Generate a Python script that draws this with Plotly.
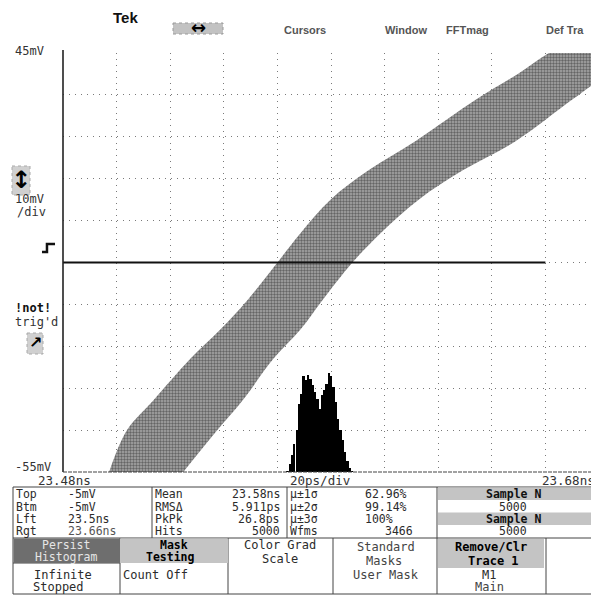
import plotly.graph_objects as go

x_range_ns = [23.48, 23.68]          # 20 ps/div, 10 div
y_range_mv = [-55, 45]               # 10 mV/div, 10 div

# persisted rising edge: voltage levels and early / late edge times of the band
band_mv = [-55, -45, -38, -28, -21, -14, -5, 2, 10, 17, 24, 34, 40, 45, 48]
band_early_ns = [23.4972, 23.5039, 23.5136, 23.5275, 23.5387, 23.5488, 23.5600,
                 23.5686, 23.5798, 23.5940, 23.6116, 23.6344, 23.6497, 23.6613, 23.6714]
band_late_ns = [23.5249, 23.5376, 23.5469, 23.5585, 23.5686, 23.5768, 23.5880,
                23.5985, 23.6127, 23.6292, 23.6490, 23.6703, 23.6838, 23.6994, 23.7100]

# horizontal histogram of crossing times (hits per bin)
hist_ns = [23.5637, 23.5646, 23.5654, 23.5663, 23.5672, 23.5680, 23.5689, 23.5697,
           23.5706, 23.5715, 23.5723, 23.5732, 23.5740, 23.5749, 23.5758, 23.5766,
           23.5775, 23.5783, 23.5792, 23.5801, 23.5809, 23.5818, 23.5826, 23.5835,
           23.5844, 23.5852, 23.5861, 23.5869, 23.5878]
hist_hits = [3, 24, 51, 84, 126, 204, 234, 288, 276, 291, 279, 261, 240, 219, 189,
             231, 246, 264, 297, 288, 255, 210, 159, 126, 96, 60, 33, 12, 3]
hist_scale_max = 1257

trig_level_mv = -5
hist_window_ns = [23.48, 23.66]

stat_col1 = [("Top", "-5mV"), ("Btm", "-5mV"), ("Lft", "23.5ns"), ("Rgt", "23.66ns")]
stat_col2 = [("Mean", "23.58ns"), ("RMSΔ", "5.911ps"), ("PkPk", "26.8ps"), ("Hits", "5000")]
stat_col3 = [("µ±1σ", "62.96%"), ("µ±2σ", "99.14%"), ("µ±3σ", "100%"), ("Wfms", "3466")]
stat_col4 = ["Sample N", "5000", "Sample N", "5000"]

# ---------------- geometry helpers (reference pixels -> paper) ----------------
OFF = 8                      # the page body adds an 8 px margin
W, H = 599 - OFF, 595 - OFF
PLOT_L, PLOT_T, PLOT_B = 63, 53, 472
L, T = PLOT_L - OFF, PLOT_T - OFF
B = 595 - PLOT_B
PW, PH = 599 - PLOT_L, PLOT_B - PLOT_T
MONO = "DejaVu Sans Mono"
SANS = "Liberation Sans"
TS = 12


def fx(px):
    return (px - PLOT_L) / PW


def fy(py):
    return (PLOT_B - py) / PH


annotations = []
shapes = []


def txt(px, py, s, size=TS, color="#2b2b2b", bold=False, anchor="left", family=MONO):
    annotations.append(dict(
        x=fx(px), y=fy(py), xref="paper", yref="paper", text=s, showarrow=False,
        xanchor=anchor, yanchor="middle", borderpad=0,
        font=dict(family=family, size=size, color=color, weight="bold" if bold else "normal")))


def rect(x0, y0, x1, y1, fill="rgba(0,0,0,0)", line="#3a3a3a", lw=1, dash="solid"):
    shapes.append(dict(type="rect", xref="paper", yref="paper", x0=fx(x0), x1=fx(x1),
                       y0=fy(y0), y1=fy(y1), fillcolor=fill,
                       line=dict(color=line, width=lw, dash=dash), layer="above"))


def hline(x0, x1, y, color="#3a3a3a", lw=1, dash="solid"):
    shapes.append(dict(type="line", xref="paper", yref="paper", x0=fx(x0), x1=fx(x1),
                       y0=fy(y), y1=fy(y), line=dict(color=color, width=lw, dash=dash)))


def vline(x, y0, y1, color="#3a3a3a", lw=1, dash="solid"):
    shapes.append(dict(type="line", xref="paper", yref="paper", x0=fx(x), x1=fx(x),
                       y0=fy(y0), y1=fy(y1), line=dict(color=color, width=lw, dash=dash)))


# ---------------- traces ----------------
fig = go.Figure()
fig.add_trace(go.Scatter(
    x=band_early_ns + band_late_ns[::-1], y=band_mv + band_mv[::-1],
    mode="lines", fill="toself", line=dict(width=0, color="#8a8a8a", shape="spline", smoothing=1.0),
    fillcolor="#9a9a9a",
    fillpattern=dict(shape=".", fgcolor="#222222", bgcolor="#a8a8a8", size=3, solidity=0.5),
    hoverinfo="skip"))
fig.add_trace(go.Bar(
    x=hist_ns, y=hist_hits, yaxis="y2", width=0.00088,
    marker=dict(color="#000000", line=dict(width=0)), hoverinfo="skip"))

# trigger / histogram level line
shapes.append(dict(type="line", xref="x", yref="y", x0=hist_window_ns[0], x1=hist_window_ns[1],
                   y0=trig_level_mv, y1=trig_level_mv, line=dict(color="#111", width=2)))

# graticule frame
vline(63, 50, 472, color="#222", lw=1.6)
hline(63, 599, 472, color="#444", lw=1.2, dash="4px,1px")

# ---------------- top menu ----------------
txt(125, 17, "Tek", size=15, color="#111", bold=True, anchor="center", family=SANS)
rect(173, 23, 223, 34, fill="#c2c2c2", line="#9a9a9a", dash="dot")
txt(198, 28, "↔", size=18, color="#000", bold=True, anchor="center", family="DejaVu Sans")
txt(305, 30, "Cursors", size=11, color="#555", bold=True, anchor="center", family=SANS)
txt(406, 30, "Window", size=11, color="#555", bold=True, anchor="center", family=SANS)
txt(467, 30, "FFTmag", size=11, color="#555", bold=True, anchor="center", family=SANS)
txt(545, 30, "Def Tra", size=11, color="#555", bold=True, anchor="left", family=SANS)

# ---------------- left side readouts ----------------
txt(14, 51, "45mV", size=12, color="#333")
rect(12, 166, 30, 195, fill="#d0d0d0", line="#aaaaaa", dash="dot")
txt(21, 180, "↕", size=24, color="#000", bold=True, anchor="center", family="DejaVu Sans")
txt(14, 199, "10mV", size=12, color="#333")
txt(16, 212, "/div", size=12, color="#333")
shapes.append(dict(type="path", xref="paper", yref="paper",
                   path="M {:.4f},{:.4f} L {:.4f},{:.4f} L {:.4f},{:.4f} L {:.4f},{:.4f}".format(
                       fx(42), fy(252), fx(47), fy(252), fx(47), fy(244), fx(55), fy(244)),
                   line=dict(color="#111", width=2.5)))
txt(14, 308, "!not!", size=12, color="#111", bold=True)
txt(14, 322, "trig'd", size=12, color="#333")
rect(27, 333, 43, 354, fill="#d0d0d0", line="#aaaaaa", dash="dot")
txt(35, 342, "↗", size=16, color="#000", bold=True, anchor="center", family="DejaVu Sans")
txt(14, 467, "-55mV", size=12, color="#333")

# ---------------- horizontal readouts ----------------
txt(37, 481, "23.48ns", size=12.5, color="#333")
txt(289, 481, "20ps/div", size=12.5, color="#333")
txt(596, 481, "23.68ns", size=12.5, color="#333", anchor="right")

# ---------------- measurement table ----------------
rows_y = [494, 506.5, 519, 531]
rect(13, 487, 593, 594, line="#444")
hline(13, 593, 538, color="#444")
for xv in (152, 287, 437):
    vline(xv, 487, 538, color="#444")
for xv in (120, 228, 333, 437, 546):
    vline(xv, 538, 594, color="#444")
hline(13, 120, 563, color="#444")

rect(438, 487.5, 592.5, 500, fill="#c4c4c4", line="rgba(0,0,0,0)")
rect(438, 512.5, 592.5, 525, fill="#c4c4c4", line="rgba(0,0,0,0)")

for (lab, val), yy in zip(stat_col1, rows_y):
    txt(15, yy, lab, size=11.5)
    txt(67, yy, val, size=11.5, color="#555" if lab == "Rgt" else "#2b2b2b")
for (lab, val), yy in zip(stat_col2, rows_y):
    txt(154, yy, lab, size=11.5)
    txt(281, yy, val, size=11.5, anchor="right")
for (lab, val), yy in zip(stat_col3, rows_y):
    txt(289, yy, lab, size=11.5)
    if lab == "Wfms":
        txt(414, yy, val, size=11.5, anchor="right")
    else:
        txt(364, yy, val, size=11.5)
for s, yy in zip(stat_col4, rows_y):
    bold = s.startswith("Sample")
    txt(513, yy, s, size=11.5, bold=bold, color="#111" if bold else "#2b2b2b", anchor="center")

# buttons
rect(13.5, 538.5, 120, 563, fill="#6e6e6e", line="rgba(0,0,0,0)")
txt(66, 545, "Persist", size=11.5, color="#e6e6e6", anchor="center")
txt(66, 557, "Histogram", size=11.5, color="#e6e6e6", anchor="center")
txt(63, 575, "Infinite", anchor="center")
txt(58, 587, "Stopped", anchor="center")

rect(120, 538.5, 228, 563, fill="#c4c4c4", line="rgba(0,0,0,0)")
txt(174, 545, "Mask", size=11.5, color="#000", bold=True, anchor="center")
txt(170, 557, "Testing", size=11.5, color="#000", bold=True, anchor="center")
txt(122, 575, "Count Off")

txt(280, 545, "Color Grad", anchor="center")
txt(280, 559, "Scale", anchor="center")

txt(386, 547, "Standard", color="#444", anchor="center")
txt(384, 561, "Masks", color="#444", anchor="center")
txt(386, 575, "User Mask", color="#444", anchor="center")

rect(438, 539, 544, 568, fill="#c4c4c4", line="rgba(0,0,0,0)")
txt(491, 547, "Remove/Clr", color="#000", bold=True, anchor="center")
txt(493, 561, "Trace 1", color="#000", bold=True, anchor="center")
txt(489, 575, "M1", anchor="center")
txt(489, 587, "Main", color="#444", anchor="center")

# ---------------- layout ----------------
grid = dict(showgrid=True, gridcolor="#7a7a7a", gridwidth=1, griddash="1px,5px",
            showticklabels=False, ticks="", zeroline=False, showline=False, fixedrange=True)
fig.update_layout(
    width=W, height=H, margin=dict(l=L, r=0, t=T, b=B, pad=0),
    paper_bgcolor="white", plot_bgcolor="white", showlegend=False, bargap=0,
    xaxis=dict(range=x_range_ns, dtick=0.02, tick0=23.48, **grid),
    yaxis=dict(range=y_range_mv, dtick=10, tick0=-55, **grid),
    yaxis2=dict(overlaying="y", range=[0, hist_scale_max], visible=False, fixedrange=True),
    annotations=annotations, shapes=shapes)

fig.write_html("out.html")
